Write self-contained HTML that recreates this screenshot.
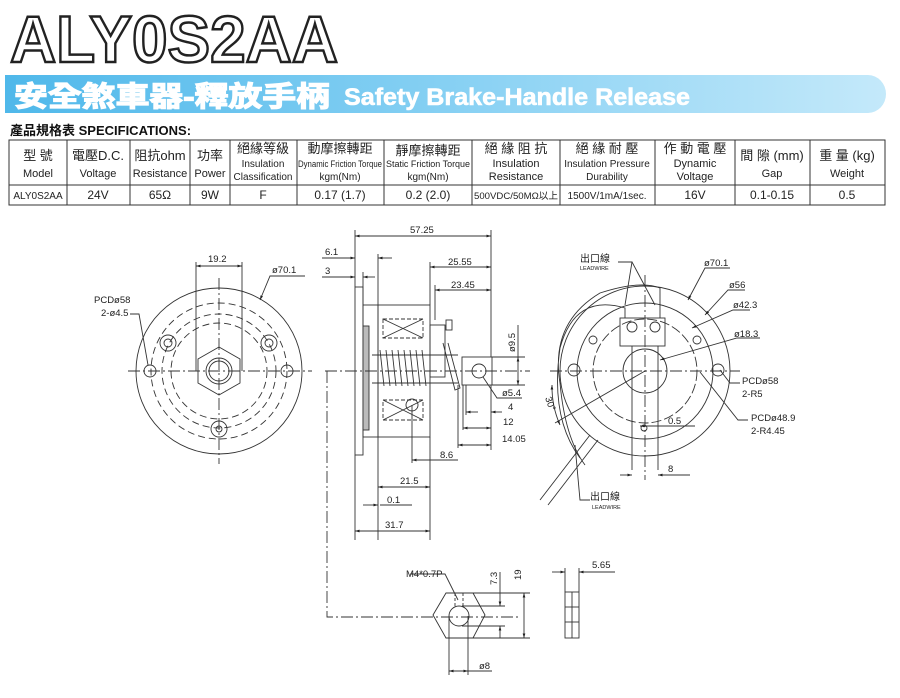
<!DOCTYPE html>
<html><head><meta charset="utf-8"><style>
body{margin:0;background:#fff;}
svg{display:block;font-family:"Liberation Sans","Noto Sans CJK TC",sans-serif;}
</style></head><body>
<svg width="900" height="698" viewBox="0 0 900 698" xmlns="http://www.w3.org/2000/svg">
<defs>
<linearGradient id="bn" x1="0" y1="0" x2="1" y2="0">
<stop offset="0" stop-color="#4fb8ea"/><stop offset="0.5" stop-color="#86d0f3"/><stop offset="1" stop-color="#c4e9fa"/>
</linearGradient>
<marker id="a" viewBox="0 0 10 10" refX="10" refY="5" markerWidth="7" markerHeight="5" orient="auto-start-reverse"><path d="M0,2 L10,5 L0,8z" fill="#222"/></marker>
</defs>
<text x="10" y="62" font-size="66" font-weight="bold" fill="#fff" stroke="#222" stroke-width="2.5" textLength="328" lengthAdjust="spacingAndGlyphs">ALY0S2AA</text>
<path d="M5,75 H868 A18,19 0 0 1 868,113 H5 Z" fill="url(#bn)"/>
<text x="14" y="106" font-size="28" font-weight="bold" fill="#fff" stroke="#fff" stroke-width="1.2" textLength="316" lengthAdjust="spacingAndGlyphs">安全煞車器-釋放手柄</text>
<text x="344" y="105" font-size="24" font-weight="bold" fill="#fff" stroke="#fff" stroke-width="0.6" textLength="346" lengthAdjust="spacingAndGlyphs">Safety Brake-Handle Release</text>
<text x="10" y="135" font-size="13" font-weight="bold" fill="#111">產品規格表 SPECIFICATIONS:</text>
<g stroke="#333" stroke-width="1" fill="none">
<rect x="9" y="140" width="876" height="65"/>
<line x1="9" y1="185" x2="885" y2="185"/>
<line x1="67" y1="140" x2="67" y2="205"/><line x1="130" y1="140" x2="130" y2="205"/>
<line x1="190" y1="140" x2="190" y2="205"/><line x1="230" y1="140" x2="230" y2="205"/>
<line x1="297" y1="140" x2="297" y2="205"/><line x1="384" y1="140" x2="384" y2="205"/>
<line x1="472" y1="140" x2="472" y2="205"/><line x1="560" y1="140" x2="560" y2="205"/>
<line x1="655" y1="140" x2="655" y2="205"/><line x1="735" y1="140" x2="735" y2="205"/>
<line x1="810" y1="140" x2="810" y2="205"/>
</g>
<g font-size="11" fill="#222" text-anchor="middle">
<text x="38" y="160" font-size="13">型 號</text><text x="38" y="177">Model</text>
<text x="98" y="160" font-size="13">電壓D.C.</text><text x="98" y="177">Voltage</text>
<text x="160" y="160" font-size="13">阻抗ohm</text><text x="160" y="177">Resistance</text>
<text x="210" y="160" font-size="13">功率</text><text x="210" y="177">Power</text>
<text x="263" y="153" font-size="13">絕緣等級</text><text x="263" y="167" font-size="10">Insulation</text><text x="263" y="180" font-size="10">Classification</text>
<text x="340" y="153" font-size="13">動摩擦轉距</text><text x="340" y="167" font-size="9" textLength="84" lengthAdjust="spacingAndGlyphs">Dynamic Friction Torque</text><text x="340" y="180" font-size="10">kgm(Nm)</text>
<text x="428" y="155" font-size="13">靜摩擦轉距</text><text x="428" y="167" font-size="9" textLength="84" lengthAdjust="spacingAndGlyphs">Static Friction Torque</text><text x="428" y="180" font-size="10">kgm(Nm)</text>
<text x="516" y="153" font-size="13">絕 緣 阻 抗</text><text x="516" y="167">Insulation</text><text x="516" y="180">Resistance</text>
<text x="607" y="153" font-size="13">絕 緣 耐 壓</text><text x="607" y="167" font-size="10">Insulation Pressure</text><text x="607" y="180" font-size="10">Durability</text>
<text x="695" y="153" font-size="13">作 動 電 壓</text><text x="695" y="167">Dynamic</text><text x="695" y="180">Voltage</text>
<text x="772" y="160" font-size="13">間 隙 (mm)</text><text x="772" y="177">Gap</text>
<text x="847" y="160" font-size="13">重 量 (kg)</text><text x="847" y="177">Weight</text>
<g font-size="12"><text x="38" y="199" font-size="10">ALY0S2AA</text><text x="98" y="199">24V</text><text x="160" y="199">65Ω</text><text x="210" y="199">9W</text><text x="263" y="199">F</text><text x="340" y="199">0.17 (1.7)</text><text x="428" y="199">0.2 (2.0)</text><text x="516" y="199" font-size="9.5" textLength="84" lengthAdjust="spacingAndGlyphs">500VDC/50MΩ以上</text><text x="607" y="199" font-size="10">1500V/1mA/1sec.</text><text x="695" y="199">16V</text><text x="772" y="199">0.1-0.15</text><text x="847" y="199">0.5</text></g>
</g>
<g stroke="#333" stroke-width="0.9" fill="none">
<circle cx="219" cy="371" r="83"/>
<circle cx="219" cy="371" r="68" stroke-dasharray="7,4"/>
<circle cx="219" cy="371" r="57" stroke-dasharray="7,4"/>
<circle cx="219" cy="371" r="48" stroke-dasharray="7,4"/>
<polygon points="219,347 240,359 240,383 219,395 198,383 198,359"/>
<circle cx="219" cy="371" r="13"/><circle cx="219" cy="371" r="10"/>
<circle cx="168" cy="343" r="8"/><circle cx="168" cy="343" r="4"/>
<circle cx="269" cy="343" r="8"/><circle cx="269" cy="343" r="4"/>
<circle cx="219" cy="429" r="8"/><circle cx="219" cy="429" r="3"/>
<circle cx="150" cy="371" r="6"/><circle cx="287" cy="371" r="6"/>
<line x1="128" y1="371" x2="312" y2="371" stroke-dasharray="12,3,2,3"/>
<line x1="219" y1="278" x2="219" y2="464" stroke-dasharray="12,3,2,3"/>
<line x1="196" y1="262" x2="196" y2="371"/><line x1="242" y1="262" x2="242" y2="371"/>
<line x1="196" y1="266" x2="242" y2="266" marker-start="url(#a)" marker-end="url(#a)"/>
<polyline points="305,276 270,276 260,300" marker-end="url(#a)"/>
<polyline points="130,314 139,314 148,365"/>
<rect x="355" y="287" width="8" height="168"/>
<rect x="363" y="305" width="15" height="132"/>
<rect x="378" y="305" width="52" height="132"/>
<rect x="363" y="326" width="6" height="104" fill="#bbb"/>
<rect x="383" y="319" width="40" height="19" stroke-dasharray="4,2"/>
<path d="M383,319 L423,338 M423,319 L383,338"/>
<rect x="383" y="400" width="40" height="20" stroke-dasharray="4,2"/>
<path d="M383,400 L423,420 M423,400 L383,420"/>
<path d="M372,355 H458 M372,383 H458"/>
<path d="M380,350 l4,36 M386,350 l4,36 M392,350 l4,36 M398,350 l4,36 M404,350 l4,36 M410,350 l4,36 M416,350 l4,36 M422,350 l4,36"/>
<rect x="430" y="325" width="15" height="52"/>
<rect x="446" y="320" width="6" height="10"/>
<path d="M443,343 L455,390 L460,388 L448,343"/>
<rect x="462" y="357" width="30" height="28"/>
<circle cx="479" cy="371" r="7"/>
<circle cx="412" cy="405" r="6"/>
<line x1="325" y1="371" x2="530" y2="371" stroke-dasharray="12,3,2,3"/>
<polyline points="327,371 327,617 520,617" stroke-dasharray="12,3,2,3"/>
<line x1="355" y1="230" x2="355" y2="287"/><line x1="491" y1="230" x2="491" y2="357"/>
<line x1="355" y1="236" x2="491" y2="236" marker-start="url(#a)" marker-end="url(#a)"/>
<line x1="322" y1="258" x2="355" y2="258" marker-end="url(#a)"/><line x1="378" y1="258" x2="392" y2="258" marker-start="url(#a)"/>
<line x1="378" y1="254" x2="378" y2="305"/>
<line x1="322" y1="277" x2="355" y2="277" marker-end="url(#a)"/><line x1="363" y1="277" x2="375" y2="277" marker-start="url(#a)"/>
<line x1="363" y1="272" x2="363" y2="305"/>
<line x1="430" y1="262" x2="430" y2="305"/><line x1="430" y1="267" x2="491" y2="267" marker-start="url(#a)" marker-end="url(#a)"/>
<line x1="435" y1="285" x2="435" y2="320"/><line x1="435" y1="290" x2="491" y2="290" marker-start="url(#a)" marker-end="url(#a)"/>
<line x1="492" y1="357" x2="525" y2="357"/><line x1="492" y1="385" x2="525" y2="385"/>
<line x1="518" y1="325" x2="518" y2="357"/><line x1="518" y1="357" x2="518" y2="385" marker-start="url(#a)" marker-end="url(#a)"/>
<polyline points="483,377 497,398 522,398"/>
<line x1="466" y1="385" x2="466" y2="415"/><line x1="491" y1="385" x2="491" y2="450"/><line x1="463" y1="385" x2="463" y2="430"/><line x1="458" y1="385" x2="458" y2="448"/>
<line x1="466" y1="412" x2="478" y2="412" marker-start="url(#a)"/><line x1="491" y1="412" x2="502" y2="412" marker-start="url(#a)"/>
<line x1="463" y1="428" x2="491" y2="428" marker-start="url(#a)" marker-end="url(#a)"/>
<line x1="458" y1="445" x2="491" y2="445" marker-start="url(#a)" marker-end="url(#a)"/>
<line x1="412" y1="405" x2="412" y2="463"/>
<line x1="412" y1="460" x2="458" y2="460" marker-start="url(#a)"/>
<line x1="378" y1="437" x2="378" y2="540"/><line x1="430" y1="437" x2="430" y2="540"/>
<line x1="378" y1="487" x2="430" y2="487" marker-start="url(#a)" marker-end="url(#a)"/>
<line x1="363" y1="505" x2="378" y2="505" marker-end="url(#a)"/><line x1="380" y1="505" x2="412" y2="505"/>
<line x1="355" y1="455" x2="355" y2="540"/>
<line x1="355" y1="531" x2="430" y2="531" marker-start="url(#a)" marker-end="url(#a)"/>
<circle cx="645" cy="371" r="85"/>
<circle cx="645" cy="371" r="68"/>
<circle cx="645" cy="371" r="52" stroke-dasharray="10,3"/>
<circle cx="645" cy="371" r="22"/>
<circle cx="574" cy="370" r="6"/><circle cx="718" cy="370" r="6"/>
<circle cx="593" cy="340" r="4"/><circle cx="697" cy="340" r="4"/>
<rect x="620" y="318" width="45" height="28"/>
<circle cx="632" cy="327" r="5"/><circle cx="655" cy="327" r="5"/>
<path d="M625,318 v-10 q-50,-15 -65,40 q-10,70 20,110 M660,318 v-30 q-20,-8 -60,5 q-50,30 -40,90 q5,55 25,82"/>
<path d="M590,435 L540,500 M598,440 L548,505"/>
<line x1="550" y1="371" x2="740" y2="371" stroke-dasharray="12,3,2,3"/>
<line x1="645" y1="275" x2="645" y2="480" stroke-dasharray="12,3,2,3"/>
<line x1="632" y1="346" x2="632" y2="470"/><line x1="658" y1="346" x2="658" y2="470"/>
<line x1="645" y1="371" x2="555" y2="423"/>
<path d="M552,385 A95,95 0 0 0 560,425" marker-start="url(#a)" marker-end="url(#a)"/>
<line x1="632" y1="475" x2="620" y2="475" marker-start="url(#a)"/><line x1="658" y1="475" x2="690" y2="475" marker-start="url(#a)"/>
<line x1="640" y1="426" x2="695" y2="426" marker-start="url(#a)"/>
<circle cx="644" cy="428" r="3"/>
<polyline points="618,262 632,262 625,305"/><polyline points="632,262 655,305"/>
<polyline points="730,268 705,268 688,300" marker-end="url(#a)"/>
<polyline points="745,290 728,290 705,315" marker-end="url(#a)"/>
<polyline points="750,310 733,310 692,328" marker-end="url(#a)"/>
<polyline points="760,338 737,338 660,360" marker-end="url(#a)"/>
<polyline points="740,383 730,383 720,370"/>
<polyline points="748,420 738,420 700,372"/>
<polyline points="590,500 580,500 575,445"/>
<polygon points="433,615 446,593 473,593 485,615 473,638 446,638"/>
<circle cx="459" cy="616" r="10"/>
<line x1="455" y1="593" x2="455" y2="608" stroke-dasharray="3,2"/><line x1="463" y1="593" x2="463" y2="608" stroke-dasharray="3,2"/>
<polyline points="410,574 445,574 458,600"/>
<line x1="473" y1="593" x2="530" y2="593"/><line x1="473" y1="638" x2="530" y2="638"/>
<line x1="462" y1="606" x2="505" y2="606"/><line x1="462" y1="626" x2="505" y2="626"/>
<line x1="500" y1="572" x2="500" y2="606" marker-end="url(#a)"/><line x1="500" y1="626" x2="500" y2="638" marker-start="url(#a)"/>
<line x1="524" y1="593" x2="524" y2="638" marker-start="url(#a)" marker-end="url(#a)"/>
<line x1="449" y1="616" x2="449" y2="675"/><line x1="468" y1="616" x2="468" y2="675"/>
<line x1="449" y1="671" x2="468" y2="671" marker-start="url(#a)" marker-end="url(#a)"/><line x1="468" y1="671" x2="492" y2="671"/>
<rect x="565" y="592" width="14" height="46"/>
<line x1="565" y1="607" x2="579" y2="607"/><line x1="565" y1="622" x2="579" y2="622"/><line x1="572" y1="592" x2="572" y2="638"/>
<line x1="565" y1="568" x2="565" y2="592"/><line x1="579" y1="568" x2="579" y2="592"/>
<line x1="552" y1="572" x2="565" y2="572" marker-end="url(#a)"/><line x1="579" y1="572" x2="615" y2="572" marker-start="url(#a)"/>
</g>
<g font-size="9.5" fill="#222">
<text x="208" y="262">19.2</text><text x="272" y="273">ø70.1</text>
<text x="94" y="303">PCDø58</text><text x="101" y="316">2-ø4.5</text>
<text x="410" y="233">57.25</text><text x="325" y="255">6.1</text><text x="325" y="274">3</text>
<text x="448" y="265">25.55</text><text x="451" y="288">23.45</text>
<text transform="translate(515,352) rotate(-90)">ø9.5</text>
<text x="502" y="396">ø5.4</text><text x="508" y="410">4</text><text x="503" y="425">12</text><text x="502" y="442">14.05</text>
<text x="440" y="458">8.6</text><text x="400" y="484">21.5</text><text x="387" y="503">0.1</text><text x="385" y="528">31.7</text>
<text x="580" y="262" font-size="10">出口線</text><text x="580" y="270" font-size="5.5">LEADWIRE</text>
<text x="704" y="266">ø70.1</text><text x="729" y="288">ø56</text><text x="733" y="308">ø42.3</text><text x="734" y="337">ø18.3</text>
<text x="742" y="384">PCDø58</text><text x="742" y="397">2-R5</text><text x="751" y="421">PCDø48.9</text><text x="751" y="434">2-R4.45</text>
<text x="668" y="424">0.5</text><text x="668" y="472">8</text>
<text x="590" y="500" font-size="10">出口線</text><text x="592" y="509" font-size="5.5">LEADWIRE</text>
<text transform="translate(545,398) rotate(70)">30°</text>
<text x="406" y="577">M4*0.7P</text>
<text transform="translate(497,585) rotate(-90)">7.3</text><text transform="translate(521,580) rotate(-90)">19</text>
<text x="479" y="669">ø8</text><text x="592" y="568">5.65</text>
</g>
</svg>
</body></html>
